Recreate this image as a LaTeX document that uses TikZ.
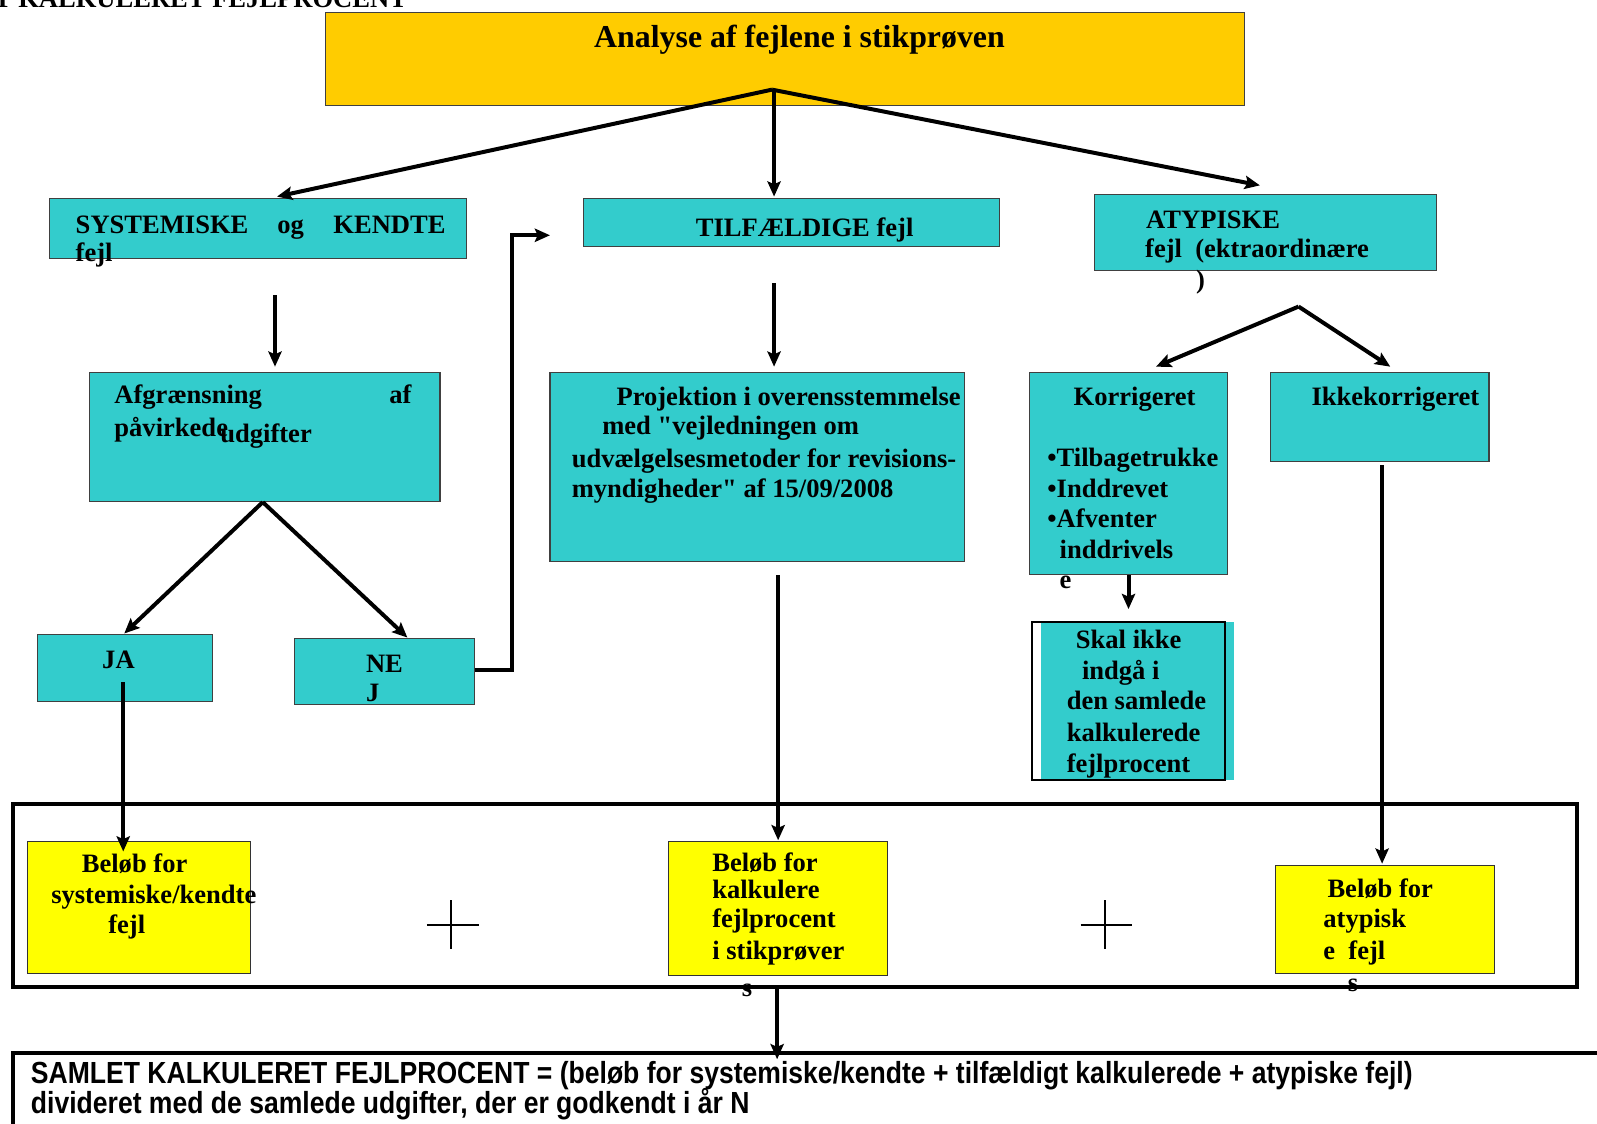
\documentclass[tikz,border=0pt]{standalone}
\usepackage{fontspec}
\usepackage{graphicx}
\setmainfont{Liberation Serif}
\newfontfamily\arialfont{Liberation Sans}
\usetikzlibrary{arrows.meta,fit}
\definecolor{tealc}{HTML}{33CCCC}
\definecolor{titlec}{HTML}{FFCC00}
\definecolor{yelc}{HTML}{FFFF00}
\tikzset{
  boxbase/.style={inner sep=0pt, outer sep=0pt},
  titlebox/.style={boxbase, draw=black!75, line width=0.6pt, fill=titlec},
  tealbox/.style={boxbase, draw=black!75, line width=0.6pt, fill=tealc},
  yelbox/.style={boxbase, draw=black!80, line width=0.6pt, fill=yelc},
  heavyframe/.style={boxbase, draw=black, line width=2.2pt},
  txt/.style={anchor=base west, inner sep=0pt, font=\bfseries\fontsize{14}{16}\selectfont},
  sanstxt/.style={anchor=base west, inner sep=0pt, font=\arialfont\bfseries\fontsize{14}{16}\selectfont},
  conn/.style={line width=2.1pt, -{Stealth[length=8pt,width=7pt,inset=1.5pt]}},
  plusline/.style={line width=0.9pt}
}
\begin{document}
\begin{tikzpicture}[x=0.537pt,y=-0.537pt]
\useasboundingbox (0,0) rectangle (1568,1103);
\clip (0,0) rectangle (1568,1103);

% clipped heading at very top
\node[txt, anchor=base east] (head) at (400,7) {SAMLET KALKULERET FEJLPROCENT};

% boxes
\node[titlebox, fit={(320,12)(1222,104)}] (title) {};
\node[tealbox, fit={(49,195)(458,254)}] (sys) {};
\node[tealbox, fit={(573,195)(981,242)}] (tilf) {};
\node[tealbox, fit={(1075,191)(1410,266)}] (atyp) {};
\node[tealbox, fit={(88,366)(432,492)}] (afg) {};
\node[tealbox, fit={(540,366)(947,551)}] (proj) {};
\node[tealbox, fit={(1011,366)(1205,564)}] (korr) {};
\node[tealbox, fit={(1247,366)(1462,453)}] (ikke) {};
\node[tealbox, fit={(37,623)(209,689)}] (ja) {};
\node[tealbox, fit={(289,627)(466,692)}] (nej) {};
\node[boxbase, fill=tealc, fit={(1022,611)(1212,766)}] (skalfill) {};
\node[boxbase, draw=black, line width=1.1pt, fit={(1013,611)(1203,766)}] (skal) {};
\node[heavyframe, fit={(13,789)(1548,969)}] (frame) {};
\node[yelbox, fit={(27,826)(246,956)}] (y1) {};
\node[yelbox, fit={(656,826)(871,958)}] (y2) {};
\node[yelbox, fit={(1252,850)(1467,956)}] (y3) {};
\node[heavyframe, fit={(13,1034)(1600,1130)}] (bottom) {};

% texts
\node[txt, anchor=base, font=\bfseries\fontsize{16.8}{19}\selectfont] (ttitle) at (785,47) {Analyse af fejlene i stikprøven};
\node[txt] (s1) at (74,229) {SYSTEMISKE};
\node[txt] (s2) at (272,229) {og};
\node[txt] (s3) at (327,229) {KENDTE};
\node[txt] (s4) at (74,257) {fejl};
\node[txt, anchor=base] (tt) at (790,232) {TILFÆLDIGE fejl};
\node[txt] (a1) at (1125,224) {ATYPISKE};
\node[txt] (a2) at (1124,253) {fejl\ \ (ektraordinære};
\node[txt] (a3) at (1174,283) {)};
\node[txt] (f1) at (112,396) {Afgrænsning};
\node[txt] (f2) at (382,396) {af};
\node[txt] (f3) at (112,429) {påvirkede};
\node[txt] (f4) at (216,434) {udgifter};
\node[txt] (p1) at (605,398) {Projektion i overensstemmelse};
\node[txt] (p2) at (591,427) {med \textquotedbl vejledningen om};
\node[txt] (p3) at (561,459) {udvælgelsesmetoder for revisions-};
\node[txt] (p4) at (561,488) {myndigheder\textquotedbl\ af 15/09/2008};
\node[txt, anchor=base] (k0) at (1114,398) {Korrigeret};
\node[txt] (k1) at (1028,458) {•Tilbagetrukke};
\node[txt] (k2) at (1028,488) {•Inddrevet};
\node[txt] (k3) at (1028,518) {•Afventer};
\node[txt] (k4) at (1040,548) {inddrivels};
\node[txt] (k5) at (1040,578) {e};
\node[txt, anchor=base] (i0) at (1370,398) {Ikkekorrigeret};
\node[txt] (sk1) at (1056,637) {Skal ikke};
\node[txt] (sk2) at (1062,667) {indgå i};
\node[txt] (sk3) at (1047,697) {den samlede};
\node[txt] (sk4) at (1047,728) {kalkulerede};
\node[txt] (sk5) at (1047,758) {fejlprocent};
\node[txt] (j1) at (100,656) {JA};
\node[txt] (n1) at (359,660) {NE};
\node[txt] (n2) at (359,689) {J};
\node[txt] (b1) at (80,857) {Beløb for};
\node[txt] (b2) at (50,887) {systemiske/kendte};
\node[txt] (b3) at (106,917) {fejl};
\node[txt] (c1) at (699,856) {Beløb for};
\node[txt] (c2) at (699,882) {kalkulere};
\node[txt] (c3) at (699,911) {fejlprocent};
\node[txt] (c4) at (699,942) {i stikprøver};
\node[txt] (c5) at (728,978) {s};
\node[txt] (d1) at (1303,881) {Beløb for};
\node[txt] (d2) at (1299,911) {atypisk};
\node[txt] (d3) at (1299,942) {e\ \ fejl};
\node[txt] (d4) at (1323,973) {s};
\node[sanstxt] (l1) at (30,1064) {\scalebox{1}[1.15]{SAMLET KALKULERET FEJLPROCENT = (beløb for systemiske/kendte + tilfældigt kalkulerede + atypiske fejl)}};
\node[sanstxt] (l2) at (30,1093) {\scalebox{1}[1.15]{divideret med de samlede udgifter, der er godkendt i år N}};

% plus signs
\coordinate (pa1) at (419,908); \coordinate (pa2) at (470,908);
\coordinate (pa3) at (443,884); \coordinate (pa4) at (443,932);
\draw[plusline] (pa1) -- (pa2); \draw[plusline] (pa3) -- (pa4);
\coordinate (pb1) at (1061,908); \coordinate (pb2) at (1111,908);
\coordinate (pb3) at (1085,884); \coordinate (pb4) at (1085,932);
\draw[plusline] (pb1) -- (pb2); \draw[plusline] (pb3) -- (pb4);

% connector points
\coordinate (split) at (758,88);
\coordinate (splitc) at (760,88);
\coordinate (sysin) at (272,193);
\coordinate (tilfin) at (760,193);
\coordinate (atypin) at (1237,182);
\coordinate (sysout) at (270,290);
\coordinate (afgin) at (270,360);
\coordinate (tilfout) at (760,278);
\coordinate (projin) at (760,360);
\coordinate (afgout) at (258,493);
\coordinate (jain) at (122,622);
\coordinate (nejin) at (400,626);
\coordinate (nejout) at (466,658);
\coordinate (nejturn1) at (503,658);
\coordinate (nejturn2) at (503,231);
\coordinate (tilfside) at (540,231);
\coordinate (atypout) at (1275,301);
\coordinate (korrin) at (1135,360);
\coordinate (ikkein) at (1365,360);
\coordinate (korrout) at (1108,565);
\coordinate (skalin) at (1108,598);
\coordinate (ikkeout) at (1357,457);
\coordinate (y3in) at (1357,848);
\coordinate (projout) at (764,565);
\coordinate (y2in) at (764,825);
\coordinate (jaout) at (121,670);
\coordinate (y1in) at (121,836);
\coordinate (frameout) at (763,969);
\coordinate (bottomin) at (763,1040);

\draw[conn] (split) -- (sysin);
\draw[conn] (splitc) -- (tilfin);
\draw[conn] (split) -- (atypin);
\draw[conn] (sysout) -- (afgin);
\draw[conn] (tilfout) -- (projin);
\draw[conn] (afgout) -- (jain);
\draw[conn] (afgout) -- (nejin);
\draw[conn, line join=miter] (nejout) -- (nejturn1) -- (nejturn2) -- (tilfside);
\draw[conn] (atypout) -- (korrin);
\draw[conn] (atypout) -- (ikkein);
\draw[conn] (korrout) -- (skalin);
\draw[conn] (ikkeout) -- (y3in);
\draw[conn] (projout) -- (y2in);
\draw[conn] (jaout) -- (y1in);
\draw[conn] (frameout) -- (bottomin);
\end{tikzpicture}
\end{document}
